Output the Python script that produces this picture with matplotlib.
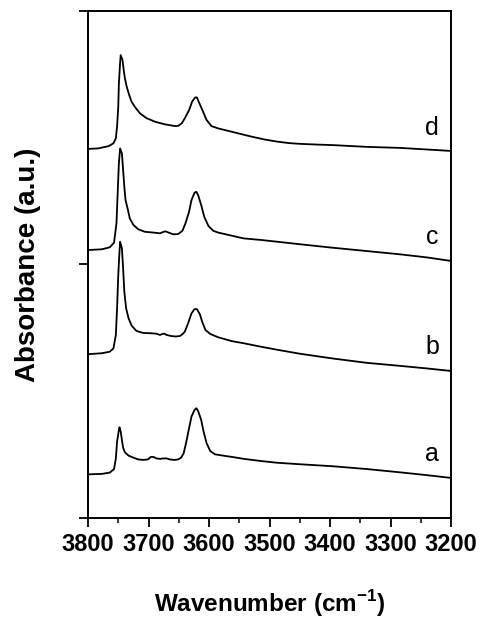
import matplotlib
matplotlib.use("Agg")
import matplotlib.pyplot as plt
from matplotlib.ticker import MultipleLocator

plt.rcParams['font.family'] = ['Liberation Sans', 'DejaVu Sans']
plt.rcParams['mathtext.fontset'] = 'custom'
plt.rcParams['mathtext.bf'] = 'Liberation Sans:bold'
plt.rcParams['mathtext.rm'] = 'Liberation Sans:bold'

# spectra (wavenumber cm-1, absorbance a.u. incl. stacking offset)
wn_a = [3800, 3777, 3764, 3757, 3754, 3752, 3749, 3748, 3746, 3744, 3742, 3739,
        3733, 3725, 3717, 3709, 3701, 3696, 3692, 3687, 3681, 3676, 3670, 3665,
        3657, 3651, 3646, 3642, 3638, 3633, 3629, 3624, 3621, 3618, 3613, 3609,
        3604, 3598, 3590, 3574, 3557, 3542, 3515, 3488, 3450, 3395, 3339, 3284,
        3240, 3200]
abs_a = [0.172, 0.174, 0.179, 0.193, 0.235, 0.301, 0.347, 0.358, 0.341, 0.308,
         0.277, 0.259, 0.246, 0.238, 0.231, 0.229, 0.231, 0.241, 0.241, 0.235,
         0.233, 0.235, 0.235, 0.231, 0.229, 0.231, 0.238, 0.255, 0.295, 0.354,
         0.400, 0.426, 0.433, 0.422, 0.387, 0.341, 0.295, 0.264, 0.251, 0.245,
         0.239, 0.233, 0.225, 0.218, 0.212, 0.204, 0.193, 0.180, 0.169, 0.158]

wn_b = [3800, 3777, 3764, 3758, 3754, 3752, 3750, 3748, 3747, 3744, 3742, 3740,
        3737, 3733, 3728, 3720, 3709, 3698, 3687, 3681, 3677, 3674, 3670, 3663,
        3655, 3648, 3644, 3640, 3634, 3629, 3624, 3620, 3615, 3611, 3606, 3598,
        3585, 3563, 3542, 3515, 3488, 3450, 3395, 3339, 3284, 3240, 3200]
abs_b = [0.646, 0.650, 0.656, 0.669, 0.722, 0.827, 0.959, 1.051, 1.090, 1.064,
         0.985, 0.893, 0.827, 0.788, 0.759, 0.738, 0.730, 0.729, 0.727, 0.722,
         0.726, 0.727, 0.722, 0.718, 0.716, 0.718, 0.725, 0.735, 0.772, 0.807,
         0.824, 0.824, 0.803, 0.772, 0.742, 0.726, 0.713, 0.698, 0.689, 0.676,
         0.664, 0.648, 0.629, 0.612, 0.600, 0.590, 0.580]

wn_c = [3800, 3777, 3764, 3757, 3753, 3751, 3749, 3747, 3744, 3742, 3740, 3738,
        3734, 3731, 3725, 3717, 3706, 3692, 3681, 3676, 3672, 3667, 3659, 3651,
        3644, 3639, 3633, 3629, 3624, 3621, 3618, 3613, 3608, 3601, 3593, 3585,
        3563, 3543, 3515, 3488, 3450, 3395, 3339, 3284, 3240, 3200]
abs_c = [1.057, 1.060, 1.068, 1.086, 1.162, 1.281, 1.399, 1.458, 1.439, 1.373,
         1.307, 1.254, 1.215, 1.182, 1.156, 1.139, 1.129, 1.126, 1.123, 1.128,
         1.131, 1.126, 1.119, 1.120, 1.133, 1.162, 1.208, 1.254, 1.283, 1.287,
         1.274, 1.235, 1.189, 1.152, 1.133, 1.126, 1.114, 1.103, 1.097, 1.090,
         1.080, 1.066, 1.053, 1.040, 1.028, 1.014]

wn_d = [3800, 3783, 3766, 3758, 3754, 3752, 3750, 3749, 3747, 3746, 3743, 3741,
        3739, 3736, 3732, 3728, 3722, 3714, 3703, 3689, 3673, 3656, 3651, 3645,
        3640, 3633, 3628, 3623, 3620, 3617, 3611, 3604, 3596, 3585, 3563, 3541,
        3527, 3508, 3488, 3468, 3450, 3420, 3395, 3339, 3284, 3200]
abs_d = [1.456, 1.458, 1.467, 1.478, 1.498, 1.544, 1.623, 1.715, 1.794, 1.826,
         1.807, 1.767, 1.734, 1.701, 1.669, 1.642, 1.620, 1.596, 1.577, 1.563,
         1.553, 1.546, 1.547, 1.557, 1.577, 1.609, 1.642, 1.659, 1.659, 1.642,
         1.609, 1.570, 1.546, 1.537, 1.524, 1.511, 1.503, 1.493, 1.485, 1.479,
         1.476, 1.473, 1.471, 1.464, 1.460, 1.448]

labels = ['a', 'b', 'c', 'd']
label_y = [0.252, 0.675, 1.108, 1.538]
label_wn = 3231

fig = plt.figure(figsize=(4.81, 6.19), dpi=100)
ax = fig.add_axes([0.183, 0.1632, 0.7547, 0.819])

for wn, ab in [(wn_a, abs_a), (wn_b, abs_b), (wn_c, abs_c), (wn_d, abs_d)]:
    ax.plot(wn, ab, color='black', lw=1.3, solid_joinstyle='round')

for lab, yy in zip(labels, label_y):
    ax.text(label_wn, yy, lab, fontsize=18, ha='center', va='center')

ax.set_xlim(3800, 3200)
ax.set_ylim(0, 2)
ax.xaxis.set_major_locator(MultipleLocator(100))
ax.xaxis.set_minor_locator(MultipleLocator(50))
ax.yaxis.set_major_locator(MultipleLocator(1))
ax.set_yticklabels([])
ax.tick_params(axis='both', which='major', direction='out', length=6.5, width=1.3,
               labelsize=17, pad=4, top=False, right=False)
ax.tick_params(axis='x', which='minor', direction='out', length=3.5, width=1.1)
for lbl in ax.get_xticklabels():
    lbl.set_fontweight('bold')
for sp in ax.spines.values():
    sp.set_linewidth(1.4)

ax.set_xlabel(r'Wavenumber (cm$^{-1}$)', fontsize=17.5, fontweight='bold')
ax.set_ylabel('Absorbance (a.u.)', fontsize=20, fontweight='bold')
ax.xaxis.set_label_coords(0.5, -0.138)
ax.yaxis.set_label_coords(-0.13, 0.5)

fig.savefig('out.png', dpi=100)
